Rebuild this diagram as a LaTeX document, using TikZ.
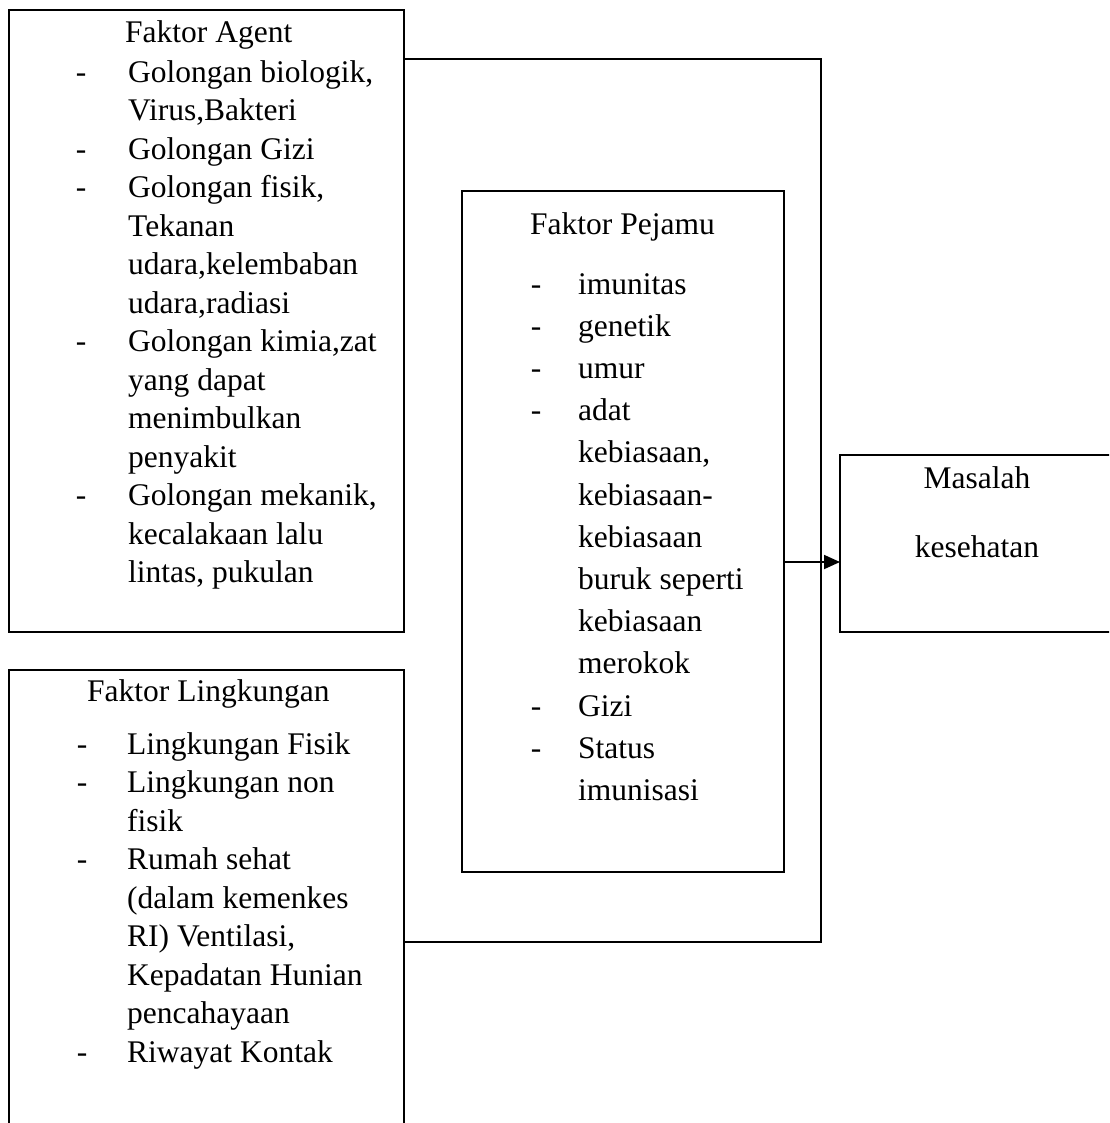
\documentclass[tikz,border=0pt]{standalone}
\usepackage{fontspec}
\setmainfont{Liberation Serif}
\usetikzlibrary{arrows.meta}
\begin{document}
\begin{tikzpicture}[x=1pt,y=-1pt,
  boxframe/.style={draw, line width=1.8pt, inner sep=0pt, outer sep=0pt},
  txt/.style={anchor=mid west, inner sep=0pt, font=\fontsize{31.5}{38}\selectfont},
  ctr/.style={anchor=mid, inner sep=0pt, font=\fontsize{31.5}{38}\selectfont},
  link/.style={line width=1.8pt},
  arr/.style={line width=1.8pt, -{Triangle[length=16pt,width=14pt]}}]
\useasboundingbox (0,0) rectangle (1109,1123);
\clip (0,0) rectangle (1109,1123);

% boxes
\node[boxframe, minimum width=395pt, minimum height=622pt] (agent) at (206.5,321) {};
\node[boxframe, minimum width=395pt, minimum height=480pt] (lingk) at (206.5,910) {};
\node[boxframe, minimum width=322pt, minimum height=681pt] (pejamu) at (623,531.5) {};
\node[boxframe, minimum width=274pt, minimum height=177pt] (masalah) at (977,543.5) {};

% Faktor Agent
\node[txt] (agt) at (125,40) {Faktor Agent};
\node[ctr] (ad1) at (81,80) {-};
\node[txt] (a1) at (128,80) {Golongan biologik,};
\node[txt] (a2) at (128,118.5) {Virus,Bakteri};
\node[ctr] (ad2) at (81,157) {-};
\node[txt] (a3) at (128,157) {Golongan Gizi};
\node[ctr] (ad3) at (81,195.5) {-};
\node[txt] (a4) at (128,195.5) {Golongan fisik,};
\node[txt] (a5) at (128,234) {Tekanan};
\node[txt] (a6) at (128,272.5) {udara,kelembaban};
\node[txt] (a7) at (128,311) {udara,radiasi};
\node[ctr] (ad4) at (81,349.5) {-};
\node[txt] (a8) at (128,349.5) {Golongan kimia,zat};
\node[txt] (a9) at (128,388) {yang dapat};
\node[txt] (a10) at (128,426.5) {menimbulkan};
\node[txt] (a11) at (128,465) {penyakit};
\node[ctr] (ad5) at (81,503.5) {-};
\node[txt] (a12) at (128,503.5) {Golongan mekanik,};
\node[txt] (a13) at (128,542) {kecalakaan lalu};
\node[txt] (a14) at (128,580.5) {lintas, pukulan};

% Faktor Lingkungan
\node[txt] (lgt) at (87,699) {Faktor Lingkungan};
\node[ctr] (ld1) at (82,752) {-};
\node[txt] (l1) at (127,752) {Lingkungan Fisik};
\node[ctr] (ld2) at (82,790.5) {-};
\node[txt] (l2) at (127,790.5) {Lingkungan non};
\node[txt] (l3) at (127,829) {fisik};
\node[ctr] (ld3) at (82,867.5) {-};
\node[txt] (l4) at (127,867.5) {Rumah sehat};
\node[txt] (l5) at (127,906) {(dalam kemenkes};
\node[txt] (l6) at (127,944.5) {RI) Ventilasi,};
\node[txt] (l7) at (127,983) {Kepadatan Hunian};
\node[txt] (l8) at (127,1021.5) {pencahayaan};
\node[ctr] (ld4) at (82,1060) {-};
\node[txt] (l9) at (127,1060) {Riwayat Kontak};

% Faktor Pejamu
\node[txt] (pgt) at (530,232) {Faktor Pejamu};
\node[ctr] (pd1) at (536,292) {-};
\node[txt] (p1) at (578,292) {imunitas};
\node[ctr] (pd2) at (536,334.2) {-};
\node[txt] (p2) at (578,334.2) {genetik};
\node[ctr] (pd3) at (536,376.3) {-};
\node[txt] (p3) at (578,376.3) {umur};
\node[ctr] (pd4) at (536,418.5) {-};
\node[txt] (p4) at (578,418.5) {adat};
\node[txt] (p5) at (578,460.7) {kebiasaan,};
\node[txt] (p6) at (578,502.8) {kebiasaan-};
\node[txt] (p7) at (578,545) {kebiasaan};
\node[txt] (p8) at (578,587.2) {buruk seperti};
\node[txt] (p9) at (578,629.3) {kebiasaan};
\node[txt] (p10) at (578,671.5) {merokok};
\node[ctr] (pd5) at (536,713.7) {-};
\node[txt] (p11) at (578,713.7) {Gizi};
\node[ctr] (pd6) at (536,755.8) {-};
\node[txt] (p12) at (578,755.8) {Status};
\node[txt] (p13) at (578,798) {imunisasi};

% Masalah kesehatan
\node[ctr] (m1) at (977,486) {Masalah};
\node[ctr] (m2) at (977,555) {kesehatan};

% connectors
\coordinate (jtop) at (821,59);
\coordinate (jbot) at (821,942);
\draw[link] (agent.east |- jtop) -- (jtop) -- (jbot) -- (lingk.east |- jbot);
\draw[arr] (pejamu.east |- 0,562) -- (masalah.west |- 0,562);
\end{tikzpicture}
\end{document}
